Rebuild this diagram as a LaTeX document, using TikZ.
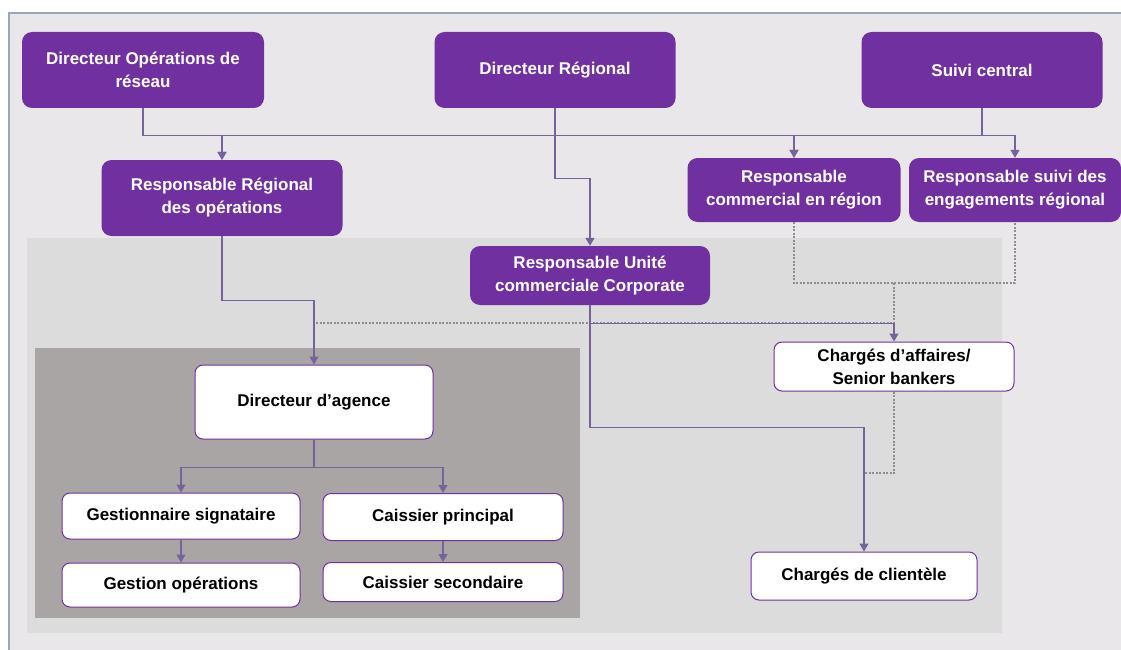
\documentclass[tikz,border=0pt]{standalone}
\usepackage{fontspec}
\setmainfont{Liberation Sans}
\usetikzlibrary{arrows.meta}
\definecolor{ORGPurple}{HTML}{7030A0}
\definecolor{ORGLine}{HTML}{76639A}
\definecolor{ORGDot}{HTML}{8E8E8E}
\definecolor{ORGFrame}{HTML}{E9E7EA}
\definecolor{ORGZone}{HTML}{DCDCDC}
\definecolor{ORGAgence}{HTML}{A9A5A5}
\definecolor{ORGBorder}{HTML}{9AA6B4}

\begin{document}
\begin{tikzpicture}[x=1pt,y=-1pt,
  chef/.style={fill=ORGPurple,text=white,rounded corners=10pt,align=center,inner sep=2pt,
    font=\fontsize{17}{23}\selectfont\bfseries},
  poste/.style={draw=ORGPurple,line width=1pt,fill=white,rounded corners=8pt,align=center,inner sep=2pt,
    font=\fontsize{17}{23}\selectfont\bfseries},
  link/.style={ORGLine,line width=1.1pt,-{Triangle[width=9pt,length=8pt]}},
  pointille/.style={ORGDot,line width=1.2pt,dash pattern=on 2pt off 1.5pt}]
\useasboundingbox (0,0) rectangle (1121,650);
% fonds
\fill[white] (0,0) rectangle (1121,650);
\draw[ORGBorder,line width=1.5pt,fill=ORGFrame] (9,13) rectangle (1130,660);
\fill[ORGZone] (27,238) rectangle (1002,633);
\fill[ORGAgence] (35,348) rectangle (580,618);

% direction
\node[chef,minimum width=242pt,minimum height=76pt] (dirop) at (143,70) {Directeur Opérations de\\réseau};
\node[chef,minimum width=241pt,minimum height=76pt] (dirreg) at (555,70) {Directeur Régional};
\node[chef,minimum width=241pt,minimum height=76pt] (suivi) at (982,70) {Suivi central};
\node[chef,minimum width=241pt,minimum height=76pt] (rrops) at (222,198) {Responsable Régional\\des opérations};
\node[chef,minimum width=213pt,minimum height=64pt] (respcom) at (794,190) {Responsable\\commercial en région};
\node[chef,minimum width=212pt,minimum height=64pt] (respsuivi) at (1015,190) {Responsable suivi des\\engagements régional};
\node[chef,minimum width=240pt,minimum height=59pt] (rucc) at (590,275.5) {Responsable Unité\\commerciale Corporate};

% postes
\node[poste,minimum width=240pt,minimum height=49pt] (charaff) at (894,366.5) {Chargés d’affaires/\\Senior bankers};
\node[poste,minimum width=226pt,minimum height=48pt] (charcli) at (864,576) {Chargés de clientèle};
\node[poste,minimum width=238pt,minimum height=74pt] (dirag) at (314,402) {Directeur d’agence};
\node[poste,minimum width=238pt,minimum height=46pt] (gestsig) at (181,516) {Gestionnaire signataire};
\node[poste,minimum width=240pt,minimum height=47pt] (caissp) at (443,517) {Caissier principal};
\node[poste,minimum width=238pt,minimum height=44pt] (gestop) at (181,585) {Gestion opérations};
\node[poste,minimum width=240pt,minimum height=39pt] (caisss) at (443,582) {Caissier secondaire};

% liens pointilles
\coordinate (jn) at (894,283);
\coordinate (ja) at (314,323);
\coordinate (jc) at (864,473);
\draw[pointille] (respcom.south) |- (jn) -| (respsuivi.south);
\draw[pointille] (jn) |- (ja);
\draw[pointille] (charaff.south) |- (jc);

% liens hierarchiques
\draw[link] (dirop.south) -- ++(0,27) -| (rrops.north);
\draw[link] (dirreg.south) -- ++(0,27) -| (rrops.north);
\draw[link] (dirreg.south) -- ++(0,27) -| (respcom.north);
\draw[link] (suivi.south) -- ++(0,27) -| (respcom.north);
\draw[link] (suivi.south) -- ++(0,27) -| (respsuivi.north);
\draw[link] (dirreg.south) -- ++(0,70) -| (rucc.north);
\draw[link] (rrops.south) -- ++(0,64) -| (dirag.north);
\draw[link] (rucc.south) -- ++(0,18) -| (charaff.north);
\draw[link] (rucc.south) -- ++(0,122) -| (charcli.north);
\draw[link] (dirag.south) -- ++(0,28) -| (gestsig.north);
\draw[link] (dirag.south) -- ++(0,28) -| (caissp.north);
\draw[link] (gestsig) -- (gestop);
\draw[link] (caissp) -- (caisss);
\end{tikzpicture}
\end{document}
